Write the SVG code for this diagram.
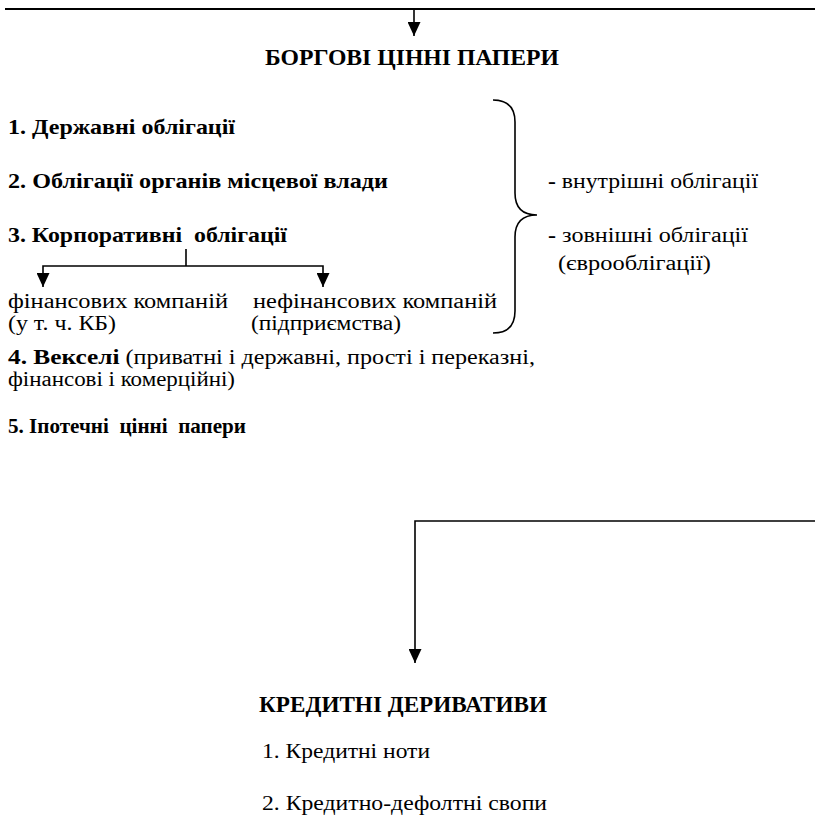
<svg xmlns="http://www.w3.org/2000/svg" width="815" height="815" viewBox="0 0 815 815">
<defs>
<marker id="ah" markerUnits="userSpaceOnUse" markerWidth="14" markerHeight="13" refX="14" refY="6.5" orient="auto" viewBox="0 0 14 13">
<path d="M0,0 L14,6.5 L0,13 z" fill="#000"/>
</marker>
</defs>
<rect width="815" height="815" fill="#fff"/>
<g id="connectors" fill="none" stroke="#000" stroke-width="1.6">
<path d="M5,9 H815" stroke-width="2.2"/>
<path d="M414,9 V36" marker-end="url(#ah)"/>
<path d="M186,249 V266"/>
<path d="M186,266 H43 V287" marker-end="url(#ah)"/>
<path d="M186,266 H323 V287" marker-end="url(#ah)"/>
<path d="M815,521 H415 V663" marker-end="url(#ah)"/>
<path id="brace" d="M493,100 Q515,100 515,122 L515,193 Q515,215 537,215 Q515,215 515,237 L515,311 Q515,333 493,333"/>
</g>
<g font-family="Liberation Serif, serif" font-size="20" fill="#000">
<g id="title1"><text font-weight="bold" font-size="24" x="265" y="65" textLength="294" lengthAdjust="spacingAndGlyphs">БОРГОВІ ЦІННІ ПАПЕРИ</text></g>
<g id="item1"><text font-weight="bold" font-size="22" x="8" y="134" textLength="227" lengthAdjust="spacingAndGlyphs">1. Державні облігації</text></g>
<g id="item2"><text font-weight="bold" font-size="22" x="8" y="188" textLength="380" lengthAdjust="spacingAndGlyphs">2. Облігації органів місцевої влади</text></g>
<g id="item3"><text font-weight="bold" font-size="22" x="8" y="242" xml:space="preserve" textLength="279" lengthAdjust="spacingAndGlyphs">3. Корпоративні  облігації</text></g>
<g id="fin"><text x="8" y="308" textLength="220" lengthAdjust="spacingAndGlyphs">фінансових компаній</text><text x="8" y="330" textLength="108" lengthAdjust="spacingAndGlyphs">(у т. ч. КБ)</text></g>
<g id="nonfin"><text x="253" y="308" textLength="244" lengthAdjust="spacingAndGlyphs">нефінансових компаній</text><text x="251" y="330" textLength="150" lengthAdjust="spacingAndGlyphs">(підприємства)</text></g>
<g id="internal"><text x="548" y="188" textLength="210" lengthAdjust="spacingAndGlyphs"><tspan font-weight="bold">-</tspan> внутрішні облігації</text></g>
<g id="external"><text x="548" y="242" textLength="200" lengthAdjust="spacingAndGlyphs"><tspan font-weight="bold">-</tspan> зовнішні облігації</text><text x="558" y="270" textLength="153" lengthAdjust="spacingAndGlyphs">(єврооблігації)</text></g>
<g id="item4"><text x="8" y="364" textLength="527" lengthAdjust="spacingAndGlyphs"><tspan font-weight="bold" font-size="21">4. Векселі</tspan> (приватні і державні, прості і переказні,</text><text x="8" y="386" textLength="227" lengthAdjust="spacingAndGlyphs">фінансові і комерційні)</text></g>
<g id="item5"><text font-weight="bold" font-size="21" x="8" y="433" xml:space="preserve" textLength="238" lengthAdjust="spacingAndGlyphs">5. Іпотечні  цінні  папери</text></g>
<g id="title2"><text font-weight="bold" font-size="23" x="259" y="712" textLength="288" lengthAdjust="spacingAndGlyphs">КРЕДИТНІ ДЕРИВАТИВИ</text></g>
<g id="cd1"><text x="262" y="758" textLength="168" lengthAdjust="spacingAndGlyphs">1. Кредитні ноти</text></g>
<g id="cd2"><text x="262" y="810" textLength="285" lengthAdjust="spacingAndGlyphs">2. Кредитно-дефолтні свопи</text></g>
</g>
</svg>
